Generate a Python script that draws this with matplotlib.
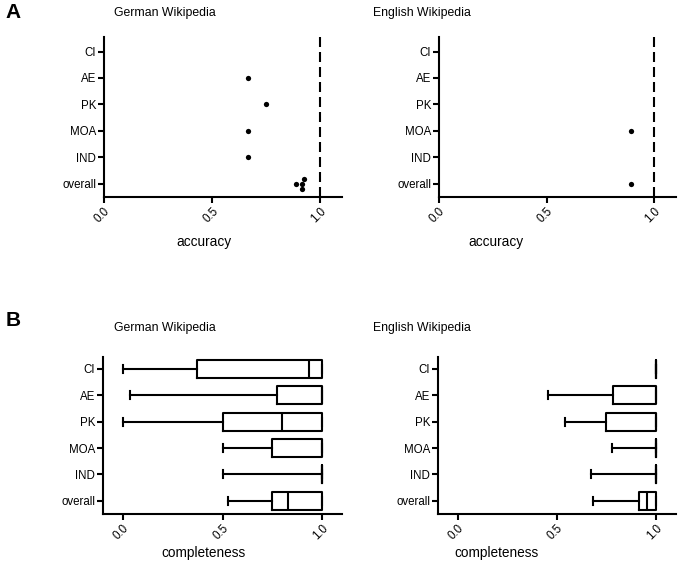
import matplotlib
matplotlib.use("Agg")
import matplotlib.pyplot as plt
import numpy as np

plt.rcParams['font.family'] = ['Liberation Sans', 'DejaVu Sans']

# ---------------- data ----------------
categories = ['CI', 'AE', 'PK', 'MOA', 'IND', 'overall']   # top to bottom
x_ticks = [0.0, 0.5, 1.0]
x_tick_labels = ['0.0', '0.5', '1.0']
reference_value = 1.0

# A: accuracy (individual values per category)
acc_german = [[], [0.667], [0.75], [0.667], [0.667], [0.889, 0.917, 0.917, 0.926]]
acc_english = [[], [], [], [0.889], [], [0.889]]

# B: completeness box plot statistics (per category, top to bottom)
comp_german_min = [0.0, 0.037, 0.0, 0.5, 0.5, 0.53]
comp_german_q1 = [0.373, 0.772, 0.5, 0.749, 1.0, 0.749]
comp_german_med = [0.936, 1.0, 0.799, 1.0, 1.0, 0.831]
comp_german_q3 = [1.0, 1.0, 1.0, 1.0, 1.0, 1.0]
comp_german_max = [1.0, 1.0, 1.0, 1.0, 1.0, 1.0]

comp_english_min = [1.0, 0.454, 0.538, 0.776, 0.669, 0.680]
comp_english_q1 = [1.0, 0.781, 0.748, 1.0, 1.0, 0.911]
comp_english_med = [1.0, 1.0, 1.0, 1.0, 1.0, 0.953]
comp_english_q3 = [1.0, 1.0, 1.0, 1.0, 1.0, 1.0]
comp_english_max = [1.0, 1.0, 1.0, 1.0, 1.0, 1.0]

# ---------------- layout ----------------
W, H = 680, 570
fig = plt.figure(figsize=(W / 100, H / 100), dpi=100)

def ax_rect(x0, y0, x1, y1):
    return [x0 / W, 1 - y1 / H, (x1 - x0) / W, (y1 - y0) / H]

ax_a1 = fig.add_axes(ax_rect(104, 37, 342, 197))
ax_a2 = fig.add_axes(ax_rect(439, 37, 676, 197))
ax_b1 = fig.add_axes(ax_rect(103, 357, 342, 514))
ax_b2 = fig.add_axes(ax_rect(438, 357, 676, 514))

n = len(categories)
ypos = np.arange(n)[::-1]  # CI at top

LW = 1.5
TICK_FS = 8.3

def style_axis(ax, xlim, ylim):
    for s in ['top', 'right']:
        ax.spines[s].set_visible(False)
    for s in ['left', 'bottom']:
        ax.spines[s].set_linewidth(LW)
    ax.set_xlim(*xlim)
    ax.set_ylim(*ylim)
    ax.set_yticks(ypos)
    ax.set_yticklabels(categories, fontsize=TICK_FS)
    ax.set_xticks(x_ticks)
    ax.set_xticklabels(x_tick_labels, fontsize=TICK_FS, rotation=45, ha='right',
                       va='top', rotation_mode='anchor')
    ax.tick_params(axis='both', width=LW, length=4, pad=2)
    ax.tick_params(axis='y', length=4.5, pad=1)

def swarm_offsets(vals, xscale_px, dot_px, step):
    placed = []
    offs = []
    for v in vals:
        for k in [0, -1, 1, -2, 2, -3, 3]:
            ok = all(not (pk == k and abs(pv - v) * xscale_px < dot_px)
                     for (pv, pk) in placed)
            if ok:
                placed.append((v, k))
                offs.append(k * step)
                break
    return offs

def draw_dots(ax, data, px_per_unit):
    for y, vals in zip(ypos, data):
        if not vals:
            continue
        vs = sorted(vals)
        offs = swarm_offsets(vs, px_per_unit, 5.0, 0.18)
        ax.plot(vs, [y + o for o in offs], 'o', color='black', markersize=3.8,
                markeredgewidth=0, clip_on=False)
    ax.axvline(reference_value, color='black', lw=LW, dashes=(4.8, 2.4))

def draw_boxes(ax, mins, q1s, meds, q3s, maxs):
    stats = []
    for mn, q1, md, q3, mx in zip(mins, q1s, meds, q3s, maxs):
        stats.append(dict(whislo=mn, q1=q1, med=md, q3=q3, whishi=mx, fliers=[]))
    ax.bxp(stats, positions=ypos, orientation='horizontal', widths=0.68,
           capwidths=0.3, showfliers=False, manage_ticks=False,
           boxprops=dict(color='black', linewidth=LW),
           whiskerprops=dict(color='black', linewidth=LW),
           capprops=dict(color='black', linewidth=LW),
           medianprops=dict(color='black', linewidth=LW))

draw_dots(ax_a1, acc_german, 216)
draw_dots(ax_a2, acc_english, 215)
draw_boxes(ax_b1, comp_german_min, comp_german_q1, comp_german_med, comp_german_q3, comp_german_max)
draw_boxes(ax_b2, comp_english_min, comp_english_q1, comp_english_med, comp_english_q3, comp_english_max)

style_axis(ax_a1, (0, 1.1), (-0.5, 5.55))
style_axis(ax_a2, (0, 1.1), (-0.5, 5.55))
style_axis(ax_b1, (-0.1, 1.1), (-0.5, 5.45))
style_axis(ax_b2, (-0.1, 1.1), (-0.5, 5.45))

def px_text(x, y, s, **kw):
    fig.text(x / W, 1 - y / H, s, ha='center', va='center', **kw)

px_text(204, 242, 'accuracy', fontsize=9.8)
px_text(496, 242, 'accuracy', fontsize=9.8)
px_text(204, 553, 'completeness', fontsize=9.8)
px_text(497, 553, 'completeness', fontsize=9.8)

px_text(165, 13, 'German Wikipedia', fontsize=8.8)
px_text(422, 13, 'English Wikipedia', fontsize=8.8)
px_text(165, 328, 'German Wikipedia', fontsize=8.8)
px_text(422, 328, 'English Wikipedia', fontsize=8.8)

px_text(13, 13, 'A', fontsize=15, fontweight='bold')
px_text(13, 321, 'B', fontsize=15, fontweight='bold')

fig.savefig('out.png', dpi=100)
